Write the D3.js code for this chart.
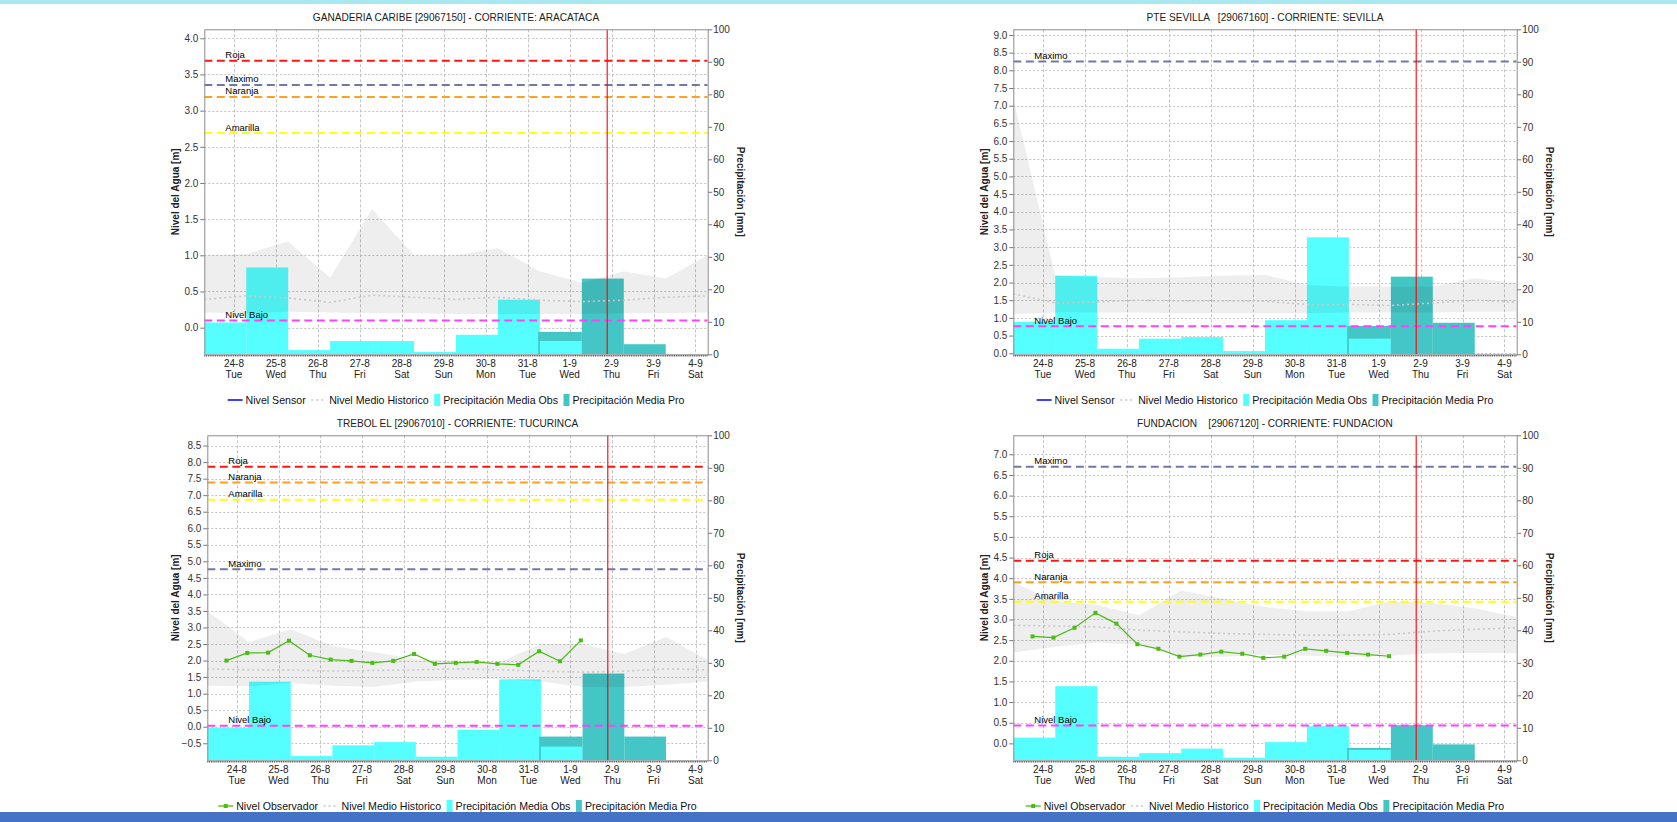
<!DOCTYPE html>
<html><head><meta charset="utf-8">
<script src="https://cdn.jsdelivr.net/npm/d3@7"></script>
<style>
body{margin:0;background:#fff;}
svg{display:block;font-family:"Liberation Sans",Arial,sans-serif;}
</style></head><body>
<svg id="c" width="1677" height="822"></svg>
<script>
// ---------- shared categories ----------
const dayLabels = ["24-8","25-8","26-8","27-8","28-8","29-8","30-8","31-8","1-9","2-9","3-9","4-9"];
const weekdayLabels = ["Tue","Wed","Thu","Fri","Sat","Sun","Mon","Tue","Wed","Thu","Fri","Sat"];
const tickDates = ["2021-08-24T00:00","2021-08-25T00:00","2021-08-26T00:00","2021-08-27T00:00","2021-08-28T00:00","2021-08-29T00:00","2021-08-30T00:00","2021-08-31T00:00","2021-09-01T00:00","2021-09-02T00:00","2021-09-03T00:00","2021-09-04T00:00"];
// day boundaries (07:00) : 13 values, bars span consecutive boundaries
const boundaryTimes = ["2021-08-23T07:00","2021-08-24T07:00","2021-08-25T07:00","2021-08-26T07:00","2021-08-27T07:00","2021-08-28T07:00","2021-08-29T07:00","2021-08-30T07:00","2021-08-31T07:00","2021-09-01T07:00","2021-09-02T07:00","2021-09-03T07:00","2021-09-04T07:00"];
const proStartTime = "2021-08-31T06:00";
const nowTime = "2021-09-01T21:30";
const observerTimes = ["2021-08-23T18:00","2021-08-24T06:00","2021-08-24T18:00","2021-08-25T06:00","2021-08-25T18:00","2021-08-26T06:00","2021-08-26T18:00","2021-08-27T06:00","2021-08-27T18:00","2021-08-28T06:00","2021-08-28T18:00","2021-08-29T06:00","2021-08-29T18:00","2021-08-30T06:00","2021-08-30T18:00","2021-08-31T06:00","2021-08-31T18:00","2021-09-01T06:00"];
const precTicks = [0,10,20,30,40,50,60,70,80,90,100];

// ---------- GANADERIA CARIBE ----------
const gan_title = "GANADERIA CARIBE [29067150] - CORRIENTE: ARACATACA";
const gan_levelRange = [-0.368, 4.124];
const gan_levelTicks = [0.0,0.5,1.0,1.5,2.0,2.5,3.0,3.5,4.0];
const gan_thrNames = ["Roja","Maximo","Naranja","Amarilla","Nivel Bajo"];
const gan_thrValues = [3.69, 3.355, 3.19, 2.69, 0.10];
const gan_precObs = [9.8, 26.7, 1.3, 4.1, 4.1, 0.7, 6.0, 16.8, 4.1, null, null, null];
const gan_precPro = [null, null, null, null, null, null, null, null, 6.9, 23.3, 3.1, 0];
const gan_histMax = [1.0, 1.02, 1.19, 0.69, 1.64, 1.0, 1.0, 1.1, 0.78, 0.62, 0.78, 0.68, 1.0];
const gan_histMin = [0.21, 0.2, 0.22, 0.21, 0.2, 0.2, 0.19, 0.19, 0.19, 0.19, 0.2, 0.2, 0.21];
const gan_histMean = [0.39, 0.44, 0.41, 0.35, 0.45, 0.42, 0.39, 0.42, 0.38, 0.36, 0.38, 0.42, 0.44];

// ---------- PTE SEVILLA ----------
const sev_title = "PTE SEVILLA   [29067160] - CORRIENTE: SEVILLA";
const sev_levelRange = [-0.03, 9.16];
const sev_levelTicks = [0.0,0.5,1.0,1.5,2.0,2.5,3.0,3.5,4.0,4.5,5.0,5.5,6.0,6.5,7.0,7.5,8.0,8.5,9.0];
const sev_thrNames = ["Maximo","Nivel Bajo"];
const sev_thrValues = [8.25, 0.76];
const sev_precObs = [10.0, 24.2, 1.7, 4.8, 5.3, 1.0, 10.5, 36.0, 4.8, null, null, null];
const sev_precPro = [null, null, null, null, null, null, null, null, 8.7, 23.9, 9.7, 0];
const sev_histMax = [7.2, 2.2, 2.15, 2.12, 2.15, 2.19, 2.22, 1.93, 1.89, 1.89, 1.89, 2.12, 1.98];
const sev_histMin = [1.1, 1.15, 1.15, 1.15, 1.13, 1.13, 1.13, 1.13, 1.15, 1.15, 1.15, 1.17, 1.17];
const sev_histMean = [1.68, 1.42, 1.45, 1.5, 1.48, 1.48, 1.47, 1.38, 1.38, 1.35, 1.42, 1.5, 1.44];

// ---------- TREBOL EL ----------
const tre_title = "TREBOL EL [29067010] - CORRIENTE: TUCURINCA";
const tre_levelRange = [-1.015, 8.81];
const tre_levelTicks = [-0.5,0.0,0.5,1.0,1.5,2.0,2.5,3.0,3.5,4.0,4.5,5.0,5.5,6.0,6.5,7.0,7.5,8.0,8.5];
const tre_thrNames = ["Roja","Naranja","Amarilla","Maximo","Nivel Bajo"];
const tre_thrValues = [7.86, 7.38, 6.86, 4.76, 0.03];
const tre_precObs = [10.0, 24.2, 1.3, 4.6, 5.6, 1.1, 9.4, 24.9, 4.2, null, null, null];
const tre_precPro = [null, null, null, null, null, null, null, null, 7.3, 26.7, 7.3, 0];
const tre_histMax = [3.5, 2.56, 2.95, 2.45, 2.25, 2.05, 2.0, 1.95, 2.5, 2.5, 2.2, 2.72, 2.02];
const tre_histMin = [1.24, 1.22, 1.32, 1.24, 1.2, 1.37, 1.42, 1.44, 1.37, 1.2, 1.2, 1.27, 1.37];
const tre_histMean = [1.75, 1.72, 1.72, 1.68, 1.7, 1.72, 1.75, 1.72, 1.68, 1.65, 1.68, 1.75, 1.72];
const tre_observer = [2.0, 2.23, 2.24, 2.6, 2.16, 2.03, 1.99, 1.93, 1.99, 2.2, 1.9, 1.93, 1.96, 1.9, 1.87, 2.28, 1.98, 2.61];

// ---------- FUNDACION ----------
const fun_title = "FUNDACION    [29067120] - CORRIENTE: FUNDACION";
const fun_levelRange = [-0.41, 7.46];
const fun_levelTicks = [0.0,0.5,1.0,1.5,2.0,2.5,3.0,3.5,4.0,4.5,5.0,5.5,6.0,6.5,7.0];
const fun_thrNames = ["Maximo","Roja","Naranja","Amarilla","Nivel Bajo"];
const fun_thrValues = [6.70, 4.42, 3.90, 3.43, 0.43];
const fun_precObs = [7.0, 22.8, 1.1, 2.2, 3.6, 0.8, 5.6, 10.5, 3.2, null, null, null];
const fun_precPro = [null, null, null, null, null, null, null, null, 3.8, 10.8, 4.9, 0];
const fun_histMax = [3.9, 3.45, 3.35, 3.1, 3.7, 3.5, 3.3, 3.2, 3.2, 3.45, 3.4, 3.27, 3.06];
const fun_histMin = [2.2, 2.34, 2.44, 2.38, 2.1, 2.1, 2.14, 2.12, 2.1, 2.12, 2.18, 2.19, 2.18];
const fun_histMean = [2.86, 2.84, 2.82, 2.74, 2.7, 2.66, 2.64, 2.62, 2.62, 2.64, 2.72, 2.76, 2.8];
const fun_observer = [2.59, 2.56, 2.80, 3.16, 2.90, 2.40, 2.29, 2.10, 2.15, 2.22, 2.17, 2.07, 2.10, 2.29, 2.24, 2.19, 2.15, 2.11];

// ---------- styles ----------
const thrColors = {"Roja":"#FF1414","Maximo":"#7078A8","Naranja":"#FFA020","Amarilla":"#FFFF10","Nivel Bajo":"#FF40FF"};
const C_OBS = "#55FFFF", C_PRO = "#45C6C6", C_GREEN = "#4CBB17", C_GRID = "#C4C4C4";

const parse = d3.timeParse("%Y-%m-%dT%H:%M");
const svg = d3.select("#c");
svg.append("rect").attr("x",0).attr("y",0).attr("width",1677).attr("height",4).attr("fill","#A9E7F1");
svg.append("rect").attr("x",0).attr("y",812).attr("width",1677).attr("height",10).attr("fill","#4472C4");

const panels = [
  {id:"gan", title:gan_title, range:gan_levelRange, ticks:gan_levelTicks, thrN:gan_thrNames, thrV:gan_thrValues,
   obs:gan_precObs, pro:gan_precPro, hmax:gan_histMax, hmin:gan_histMin, hmean:gan_histMean, observer:null,
   L:{left:204.3,right:707.7,top:29.3,bottom:354.3,labelX:175.5}},
  {id:"sev", title:sev_title, range:sev_levelRange, ticks:sev_levelTicks, thrN:sev_thrNames, thrV:sev_thrValues,
   obs:sev_precObs, pro:sev_precPro, hmax:sev_histMax, hmin:sev_histMin, hmean:sev_histMean, observer:null,
   L:{left:1013.3,right:1516.7,top:29.3,bottom:354.3,labelX:984.5}},
  {id:"tre", title:tre_title, range:tre_levelRange, ticks:tre_levelTicks, thrN:tre_thrNames, thrV:tre_thrValues,
   obs:tre_precObs, pro:tre_precPro, hmax:tre_histMax, hmin:tre_histMin, hmean:tre_histMean, observer:tre_observer,
   L:{left:207.3,right:707.7,top:435.3,bottom:760.3,labelX:175.5}},
  {id:"fun", title:fun_title, range:fun_levelRange, ticks:fun_levelTicks, thrN:fun_thrNames, thrV:fun_thrValues,
   obs:fun_precObs, pro:fun_precPro, hmax:fun_histMax, hmin:fun_histMin, hmean:fun_histMean, observer:fun_observer,
   L:{left:1013.3,right:1516.7,top:435.3,bottom:760.3,labelX:984.5}}
];

panels.forEach(drawPanel);

function drawPanel(p){
  const L = p.L;
  const g = svg.append("g");
  const x = d3.scaleTime().domain([parse(boundaryTimes[0]), parse(boundaryTimes[12])]).range([L.left, L.right]);
  const y = d3.scaleLinear().domain(p.range).range([L.bottom, L.top]);
  const y2 = d3.scaleLinear().domain([0,100]).range([L.bottom, L.top]);
  const cx = (L.left + L.right)/2;

  const clipId = "clip-" + p.id;
  svg.append("clipPath").attr("id", clipId).append("rect")
    .attr("x", L.left).attr("y", L.top).attr("width", L.right-L.left).attr("height", L.bottom-L.top);
  const pl = g.append("g").attr("clip-path", `url(#${clipId})`);

  // gridlines
  pl.selectAll(".hg").data(p.ticks).join("line")
    .attr("x1", L.left).attr("x2", L.right).attr("y1", d=>Math.round(y(d))+0.5).attr("y2", d=>Math.round(y(d))+0.5)
    .attr("stroke", C_GRID).attr("stroke-dasharray","2,2");
  pl.selectAll(".vg").data(tickDates).join("line")
    .attr("x1", d=>Math.round(x(parse(d)))+0.5).attr("x2", d=>Math.round(x(parse(d)))+0.5).attr("y1", L.top).attr("y2", L.bottom)
    .attr("stroke", C_GRID).attr("stroke-dasharray","3,2");

  // bars (projected first, observed on top, per day)
  let firstPro = true;
  for(let i=0;i<12;i++){
    const x0 = x(parse(boundaryTimes[i])), x1 = x(parse(boundaryTimes[i+1]));
    if(p.pro[i]){
      const px0 = firstPro ? x(parse(proStartTime)) : x0;
      firstPro = false;
      pl.append("rect").attr("x", px0).attr("width", x1-px0).attr("y", y2(p.pro[i])).attr("height", y2(0)-y2(p.pro[i])).attr("fill", C_PRO);
    }
    if(p.obs[i]){
      pl.append("rect").attr("x", x0).attr("width", x1-x0).attr("y", y2(p.obs[i])).attr("height", y2(0)-y2(p.obs[i])).attr("fill", C_OBS);
    }
  }

  // historical band
  const bandData = boundaryTimes.map((t,i)=>({t:parse(t), lo:p.hmin[i], hi:p.hmax[i], m:p.hmean[i]}));
  pl.append("path").datum(bandData)
    .attr("d", d3.area().x(d=>x(d.t)).y0(d=>y(d.lo)).y1(d=>y(d.hi)))
    .attr("fill","rgba(0,0,0,0.068)");
  pl.append("path").datum(bandData)
    .attr("d", d3.line().x(d=>x(d.t)).y(d=>y(d.m)))
    .attr("fill","none").attr("stroke","#C8C8C8").attr("stroke-width",1.6).attr("stroke-dasharray","2,3");

  // observer line
  if(p.observer){
    const od = observerTimes.map((t,i)=>({t:parse(t), v:p.observer[i]}));
    pl.append("path").datum(od).attr("d", d3.line().x(d=>x(d.t)).y(d=>y(d.v)))
      .attr("fill","none").attr("stroke", C_GREEN).attr("stroke-width",1.2);
    pl.selectAll(".pt").data(od).join("rect")
      .attr("x", d=>x(d.t)-2).attr("y", d=>y(d.v)-2).attr("width",4).attr("height",4).attr("fill", C_GREEN);
  }

  // thresholds
  p.thrN.forEach((n,i)=>{
    const yy = y(p.thrV[i]);
    pl.append("line").attr("x1", L.left).attr("x2", L.right).attr("y1", yy).attr("y2", yy)
      .attr("stroke", thrColors[n]).attr("stroke-width",2).attr("stroke-dasharray","8,4.5");
    g.append("text").attr("x", L.left+21).attr("y", yy-2.5).attr("font-size", 9.5).attr("fill","#000").text(n);
  });

  // now line
  pl.append("line").attr("x1", x(parse(nowTime))).attr("x2", x(parse(nowTime))).attr("y1", L.top).attr("y2", L.bottom)
    .attr("stroke","#FF0000").attr("stroke-width",1.1);

  // border
  g.append("rect").attr("x", L.left+0.5).attr("y", L.top+0.5).attr("width", L.right-L.left).attr("height", L.bottom-L.top)
    .attr("fill","none").attr("stroke","#8C8C8C");
  g.append("line").attr("x1", L.left).attr("x2", L.right).attr("y1", L.bottom+1.5).attr("y2", L.bottom+1.5)
    .attr("stroke","#555").attr("stroke-width",1.6).attr("stroke-dasharray","1,0.8");

  // left axis
  const la = g.append("g").attr("transform", `translate(${L.left},0)`)
    .call(d3.axisLeft(y).tickValues(p.ticks).tickFormat(d3.format(".1f")).tickSize(4).tickSizeOuter(0).tickPadding(2));
  la.select(".domain").remove();
  la.selectAll("text").attr("font-size",10).attr("font-family",'"Liberation Sans",Arial,sans-serif').attr("fill","#333");
  la.selectAll("line").attr("stroke","#777");
  // right axis
  const ra = g.append("g").attr("transform", `translate(${L.right+0.5},0)`)
    .call(d3.axisRight(y2).tickValues(precTicks).tickFormat(d3.format("d")).tickSize(4).tickSizeOuter(0).tickPadding(1));
  ra.select(".domain").remove();
  ra.selectAll("text").attr("font-size",10).attr("font-family",'"Liberation Sans",Arial,sans-serif').attr("fill","#333");
  ra.selectAll("line").attr("stroke","#777");

  // bottom tick labels
  tickDates.forEach((d,i)=>{
    const xx = x(parse(d));
    g.append("text").attr("x", xx).attr("y", L.bottom+12.7).attr("text-anchor","middle").attr("font-size",10).attr("fill","#222").text(dayLabels[i]);
    g.append("text").attr("x", xx).attr("y", L.bottom+24).attr("text-anchor","middle").attr("font-size",10).attr("fill","#222").text(weekdayLabels[i]);
  });

  // title
  g.append("text").attr("x", cx).attr("y", L.top-8.3).attr("text-anchor","middle").attr("font-size",10.1)
    .attr("fill","#222").style("white-space","pre").text(p.title);

  // axis titles
  const my = (L.top+L.bottom)/2;
  g.append("text").attr("transform", `translate(${L.labelX+3.5},${my}) rotate(-90)`).attr("text-anchor","middle")
    .attr("font-size",10).attr("font-weight","bold").attr("fill","#222").text("Nivel del Agua [m]");
  g.append("text").attr("transform", `translate(${L.right+29},${my}) rotate(90)`).attr("text-anchor","middle")
    .attr("font-size",10).attr("font-weight","bold").attr("fill","#222").text("Precipitación [mm]");

  // legend
  const items = [
    p.observer ? {type:"marker", label:"Nivel Observador"} : {type:"line", label:"Nivel Sensor"},
    {type:"dash", label:"Nivel Medio Historico"},
    {type:"box", color:C_OBS, label:"Precipitación Media Obs"},
    {type:"box", color:C_PRO, label:"Precipitación Media Pro"}
  ];
  const lg = g.append("g");
  const ly = L.bottom + 49.5;
  let cur = 0;
  const parts = [];
  items.forEach((it,i)=>{
    const sw = it.type==="box" ? 6 : 15;
    const t = lg.append("text").attr("font-size",10.6).attr("fill","#111").attr("y", ly).text(it.label);
    const tw = t.node().getComputedTextLength();
    parts.push({it, sx:cur, sw, tx:cur+sw+3, t});
    cur += sw + 3 + tw + (i<items.length-1 ? 5.5 : 0);
  });
  const start = cx - cur/2;
  parts.forEach(pt=>{
    const sx = start + pt.sx;
    pt.t.attr("x", start + pt.tx);
    const cy = ly - 3.8;
    if(pt.it.type==="line"){
      lg.append("line").attr("x1", sx).attr("x2", sx+pt.sw).attr("y1", cy).attr("y2", cy).attr("stroke","#0000FF").attr("stroke-width",1.5);
    } else if(pt.it.type==="marker"){
      lg.append("line").attr("x1", sx).attr("x2", sx+pt.sw).attr("y1", cy).attr("y2", cy).attr("stroke",C_GREEN).attr("stroke-width",1.3);
      lg.append("rect").attr("x", sx+pt.sw/2-2).attr("y", cy-2).attr("width",4).attr("height",4).attr("fill",C_GREEN);
    } else if(pt.it.type==="dash"){
      lg.append("line").attr("x1", sx).attr("x2", sx+pt.sw).attr("y1", cy).attr("y2", cy).attr("stroke","#C8C8C8").attr("stroke-width",1.5).attr("stroke-dasharray","2,3");
    } else {
      lg.append("rect").attr("x", sx).attr("y", cy-6).attr("width", pt.sw).attr("height",12).attr("fill", pt.it.color);
    }
  });
}
</script>
</body></html>
